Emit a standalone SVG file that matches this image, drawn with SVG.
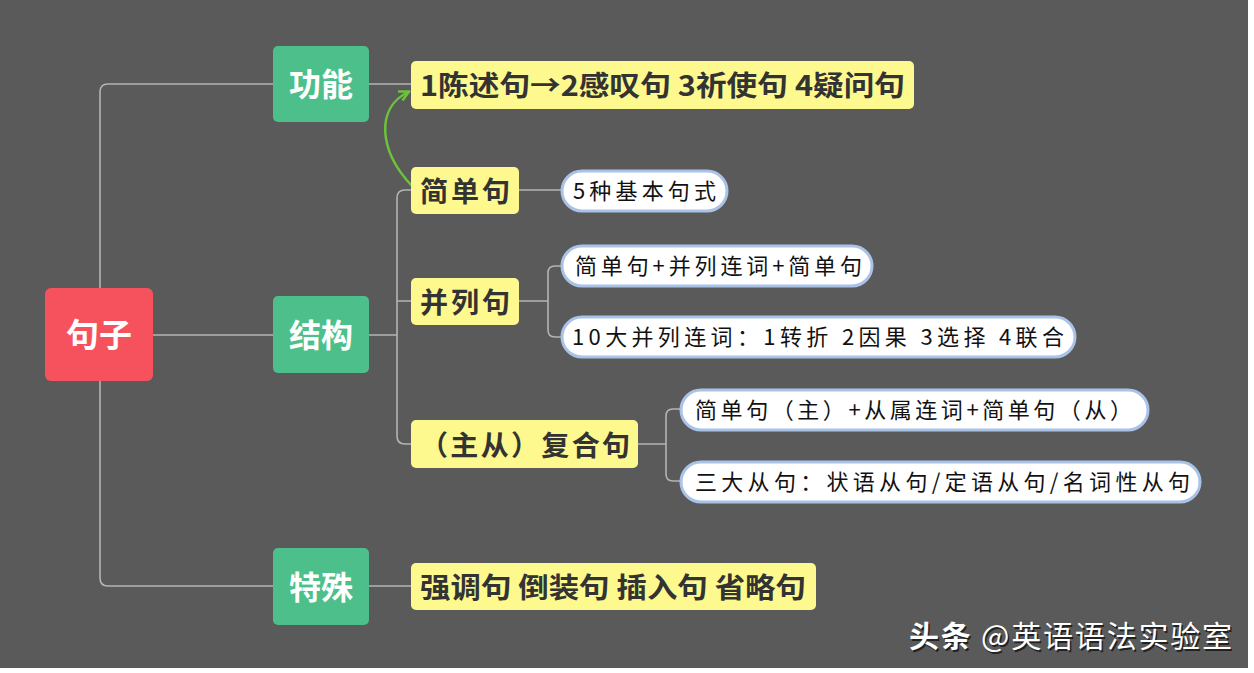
<svg xmlns="http://www.w3.org/2000/svg" width="1254" height="673" viewBox="0 0 1254 673">
<style>
.c{fill:none;stroke:#b4b4b4;stroke-width:1.6}
.g rect{fill:#4cbf8a}
.g text{fill:#fff;font:700 32px "Noto Sans CJK SC",sans-serif;text-anchor:middle}
.y rect{fill:#fdf98e}
.y text{fill:#333;font:700 28px "Noto Sans CJK SC",sans-serif}
.p rect{fill:#fff;stroke:#a9c3e8;stroke-width:3}
.p text{fill:#111;font:400 22px "Noto Sans CJK SC",sans-serif}
</style>
<defs>
<marker id="ah" viewBox="0 0 10 10" refX="8" refY="5" markerWidth="5" markerHeight="5" orient="auto"><path d="M1 1L9 5L1 9" fill="none" stroke="#6cc43a" stroke-width="2"/></marker>
</defs>
<rect width="1254" height="673" fill="#fff"/>
<rect width="1248" height="668" fill="#5a5a5a"/>
<g id="connectors">
<path class="c" d="M153 335H273M273 84H108Q100 84 100 92V578Q100 586 108 586H273"/>
<path class="c" d="M369 84H411M369 586H411M369 335H397M411 190H405Q397 190 397 198V436Q397 444 405 444H411M397 301H411"/>
<path class="c" d="M519 190H562M519 301H548M562 266H555Q548 266 548 273V330Q548 337 555 337H562"/>
<path class="c" d="M638 444H666M681 409H673Q666 409 666 416V474Q666 481 673 481H681"/>
<path d="M412 186C378 150 376 108 408 92" fill="none" stroke="#6cc43a" stroke-width="2.5" marker-end="url(#ah)"/>
</g>
<g id="root"><rect x="45" y="288" width="108" height="93" rx="6" fill="#f6525e"/><text x="99" y="347" fill="#fff" font-family="Noto Sans CJK SC,sans-serif" font-weight="700" font-size="33" text-anchor="middle">句子</text></g>
<g id="gongneng" class="g"><rect x="273" y="46" width="96" height="76" rx="5"/><text x="321" y="96">功能</text></g>
<g id="jiegou" class="g"><rect x="273" y="296" width="96" height="77" rx="5"/><text x="321" y="347">结构</text></g>
<g id="teshu" class="g"><rect x="273" y="548" width="96" height="77" rx="5"/><text x="321" y="599">特殊</text></g>
<g id="gn1" class="y"><rect x="411" y="61" width="503" height="48" rx="5"/><text x="420" y="96" textLength="485" lengthAdjust="spacingAndGlyphs">1陈述句→2感叹句 3祈使句 4疑问句</text></g>
<g id="jdj" class="y"><rect x="411" y="167" width="108" height="47" rx="5"/><text x="420" y="202" textLength="90">简单句</text></g>
<g id="bl" class="y"><rect x="411" y="278" width="108" height="47" rx="5"/><text x="420" y="313" textLength="90">并列句</text></g>
<g id="fh" class="y"><rect x="411" y="420" width="227" height="48" rx="5"/><text x="420" y="456" textLength="210">（主从）复合句</text></g>
<g id="ts1" class="y"><rect x="411" y="563" width="405" height="47" rx="5"/><text x="420" y="598" textLength="386" lengthAdjust="spacingAndGlyphs">强调句 倒装句 插入句 省略句</text></g>
<g id="p1" class="p"><rect x="562" y="171" width="165" height="40" rx="20"/><text x="573" y="199" textLength="143">5种基本句式</text></g>
<g id="p2" class="p"><rect x="562" y="246" width="310" height="40" rx="20"/><text x="575" y="274" textLength="287">简单句+并列连词+简单句</text></g>
<g id="p3" class="p"><rect x="562" y="317" width="513" height="40" rx="20"/><text x="572" y="345" textLength="492">10大并列连词：1转折 2因果 3选择 4联合</text></g>
<g id="p4" class="p"><rect x="681" y="390" width="467" height="40" rx="20"/><text x="695" y="418" textLength="437">简单句（主）+从属连词+简单句（从）</text></g>
<g id="p5" class="p"><rect x="681" y="462" width="519" height="40" rx="20"/><text x="695" y="490" textLength="495">三大从句：状语从句/定语从句/名词性从句</text></g>
<text x="909" y="647" fill="#222" font-family="Noto Sans CJK SC,sans-serif" font-size="30" transform="translate(1.5 1.5)" textLength="323"><tspan font-weight="700">头条</tspan> @英语语法实验室</text>
<text x="909" y="647" fill="#fff" font-family="Noto Sans CJK SC,sans-serif" font-size="30" textLength="323"><tspan font-weight="700">头条</tspan> @英语语法实验室</text>
</svg>
